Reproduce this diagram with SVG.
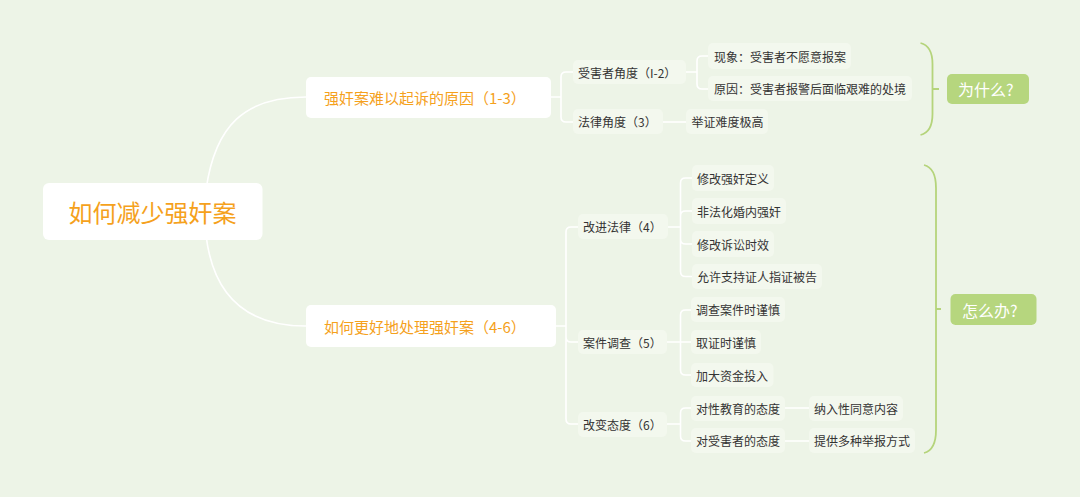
<svg xmlns="http://www.w3.org/2000/svg" width="1080" height="497" viewBox="0 0 1080 497">
<style>
text{font-family:"Noto Sans CJK SC","Noto Sans",sans-serif;dominant-baseline:central}
.main{fill:#ffffff}
.sub{fill:#F3F8EE}
.t1{fill:#F5A11C;font-size:15px}
.t0{fill:#F5A11C;font-size:24px}
.t2{fill:#333333;font-size:12px}
.lab{fill:#B6D67E}
.tl{fill:#ffffff;font-size:16px}
.conn{fill:none;stroke:#ffffff;stroke-width:1.6}
.br{fill:none;stroke:#B5D47B;stroke-width:1.8}
</style>
<rect width="1080" height="497" fill="#EDF4E7"/>
<g id="connectors">
<path class="conn" d="M206,190 C215,125 245,97 306,97"/>
<path class="conn" d="M206,235 C213,295 245,326 306,326"/>
<path class="conn" d="M550,97 H561 M561,97 V77 Q561,72 566,72 H573 M561,97 V117 Q561,122 566,122 H573"/>
<path class="conn" d="M686,72 H697 M697,72 V61 Q697,56 702,56 H708 M697,72 V84 Q697,89 702,89 H708"/>
<path class="conn" d="M663,122 H686"/>
<path class="conn" d="M556,326 H566 M566,326 V232 Q566,227 571,227 H578 M566,326 V337 Q566,342 571,342 H578 M566,326 V419 Q566,424 571,424 H578"/>
<path class="conn" d="M668,227 H680.5 M680.5,227 V183 Q680.5,178 685.5,178 H692 M680.5,227 V216 Q680.5,211 685.5,211 H692 M680.5,227 V239 Q680.5,244 685.5,244 H692 M680.5,227 V271.5 Q680.5,276.5 685.5,276.5 H692"/>
<path class="conn" d="M667,342 H680.5 M680.5,342 V315 Q680.5,310 685.5,310 H691 M680.5,342 H691 M680.5,342 V370 Q680.5,375 685.5,375 H691"/>
<path class="conn" d="M667,424 H680.5 M680.5,424 V413 Q680.5,408 685.5,408 H691 M680.5,424 V436 Q680.5,441 685.5,441 H691"/>
<path class="conn" d="M785,408 H809 M785,441 H809"/>
<path class="br" d="M920.5,43 Q932.5,46 932.5,64 V114 Q932.5,132 920.5,135 M932.5,89 H939"/>
<path class="br" d="M924,165 Q936,168 936,188 V430 Q936,450 924,453 M936,309 H941"/>
</g>
<g id="root"><rect class="main" x="43" y="183" width="219.5" height="57" rx="6"/><text class="t0" x="152.5" y="211.5" text-anchor="middle">如何减少强奸案</text></g>
<g id="b1"><rect class="main" x="306" y="77" width="245" height="41" rx="5"/><text class="t1" x="324" y="97.5">强奸案难以起诉的原因（1-3）</text></g>
<g id="b2"><rect class="main" x="306" y="305" width="250" height="42" rx="5"/><text class="t1" x="324" y="326">如何更好地处理强奸案（4-6）</text></g>
<g id="n1"><rect class="sub" x="573" y="60" width="113" height="24" rx="5"/><text class="t2" x="578" y="72">受害者角度（I-2）</text></g>
<g id="n2"><rect class="sub" x="573" y="109" width="90" height="25" rx="5"/><text class="t2" x="578" y="121.5">法律角度（3）</text></g>
<g id="n3"><rect class="sub" x="708" y="43" width="143" height="26" rx="5"/><text class="t2" x="714" y="56">现象：受害者不愿意报案</text></g>
<g id="n4"><rect class="sub" x="708" y="76" width="204" height="25" rx="5"/><text class="t2" x="714" y="88.5">原因：受害者报警后面临艰难的处境</text></g>
<g id="n5"><rect class="sub" x="686" y="109" width="82" height="25" rx="5"/><text class="t2" x="691.5" y="121.5">举证难度极高</text></g>
<g id="why"><rect class="lab" x="947" y="74" width="82" height="30" rx="5"/><text class="tl" x="958" y="89">为什么?</text></g>
<g id="n6"><rect class="sub" x="578" y="214" width="90" height="25" rx="5"/><text class="t2" x="583" y="226.5">改进法律（4）</text></g>
<g id="n7"><rect class="sub" x="692" y="165" width="82" height="26" rx="5"/><text class="t2" x="697" y="178">修改强奸定义</text></g>
<g id="n8"><rect class="sub" x="692" y="198" width="94" height="26" rx="5"/><text class="t2" x="697" y="211">非法化婚内强奸</text></g>
<g id="n9"><rect class="sub" x="692" y="231" width="82" height="26" rx="5"/><text class="t2" x="697" y="244">修改诉讼时效</text></g>
<g id="n10"><rect class="sub" x="692" y="264" width="130" height="25" rx="5"/><text class="t2" x="697" y="276.5">允许支持证人指证被告</text></g>
<g id="n11"><rect class="sub" x="578" y="330" width="89" height="24" rx="5"/><text class="t2" x="583" y="342">案件调查（5）</text></g>
<g id="n12"><rect class="sub" x="691" y="297" width="94" height="25" rx="5"/><text class="t2" x="696" y="309.5">调查案件时谨慎</text></g>
<g id="n13"><rect class="sub" x="691" y="330" width="70" height="24" rx="5"/><text class="t2" x="696" y="342">取证时谨慎</text></g>
<g id="n14"><rect class="sub" x="691" y="363" width="82.5" height="24" rx="5"/><text class="t2" x="696" y="375">加大资金投入</text></g>
<g id="n15"><rect class="sub" x="578" y="412" width="89" height="25" rx="5"/><text class="t2" x="583" y="424.5">改变态度（6）</text></g>
<g id="n16"><rect class="sub" x="691" y="396" width="94" height="25" rx="5"/><text class="t2" x="696" y="408.5">对性教育的态度</text></g>
<g id="n17"><rect class="sub" x="691" y="428" width="94" height="25" rx="5"/><text class="t2" x="696" y="440.5">对受害者的态度</text></g>
<g id="n18"><rect class="sub" x="809" y="396" width="94" height="25" rx="5"/><text class="t2" x="814" y="408.5">纳入性同意内容</text></g>
<g id="n19"><rect class="sub" x="809" y="428" width="106" height="25" rx="5"/><text class="t2" x="814" y="440.5">提供多种举报方式</text></g>
<g id="how"><rect class="lab" x="950.5" y="294" width="86" height="31" rx="5"/><text class="tl" x="962" y="309.5">怎么办?</text></g>
</svg>
